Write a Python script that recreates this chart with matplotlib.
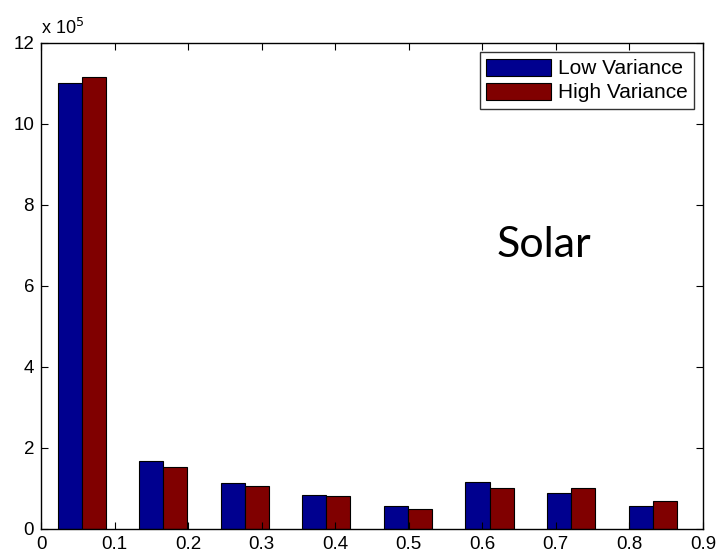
import numpy as np
import matplotlib.pyplot as plt

plt.rcParams['font.family'] = ['Liberation Sans', 'DejaVu Sans']

# histogram bins (8 bins over the value range) and counts in units of 1e5
edges = np.linspace(0, 0.887, 9)
low_var = [11.0, 1.69, 1.14, 0.83, 0.56, 1.17, 0.90, 0.56]
high_var = [11.15, 1.52, 1.07, 0.81, 0.49, 1.01, 1.01, 0.69]
labels = ['Low Variance', 'High Variance']

centers = (edges[:-1] + edges[1:]) / 2
step = edges[1] - edges[0]
w = step * 0.295

fig = plt.figure(figsize=(7.16, 5.56), dpi=100)
ax = fig.add_axes([0.0573, 0.0486, 0.9245, 0.8741])

ax.bar(centers - w / 2, np.array(low_var) * 1e5, width=w, color='#00008f',
       edgecolor='black', linewidth=0.8, label=labels[0])
ax.bar(centers + w / 2, np.array(high_var) * 1e5, width=w, color='#800000',
       edgecolor='black', linewidth=0.8, label=labels[1])

ax.set_xlim(0, 0.9)
ax.set_ylim(0, 12e5)
ax.set_xticks(np.arange(0, 0.91, 0.1))
ax.set_xticklabels(['0', '0.1', '0.2', '0.3', '0.4', '0.5', '0.6', '0.7', '0.8', '0.9'])
ax.set_yticks(np.arange(0, 12.1, 2) * 1e5)
ax.set_yticklabels([str(v) for v in range(0, 13, 2)])
ax.tick_params(direction='in', top=True, right=True, length=5, labelsize=13.5,
               pad=5)
for s in ax.spines.values():
    s.set_linewidth(1.0)

ax.text(0.0, 1.0185, r'x 10$^5$', transform=ax.transAxes, fontsize=13,
        ha='left', va='baseline')

ax.text(0.684, 6.72e5, 'Solar', fontsize=31, family=['Lato', 'DejaVu Sans'],
        ha='center', va='baseline')

ax.legend(loc='upper right', fontsize=15, frameon=True, fancybox=False,
          edgecolor='black', handlelength=3.1, handleheight=0.9,
          borderaxespad=0.45, borderpad=0.3, labelspacing=0.2, handletextpad=0.33)

fig.savefig('out.png', dpi=100)
